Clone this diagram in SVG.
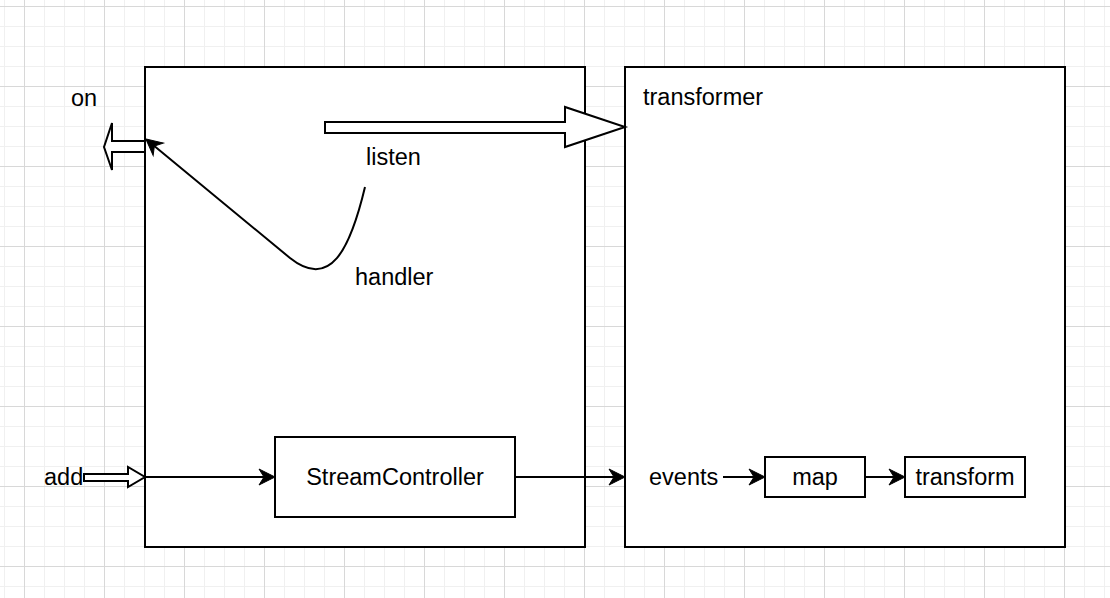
<svg xmlns="http://www.w3.org/2000/svg" width="1110" height="598" viewBox="0 0 1110 598">
  <defs>
    <pattern id="gMinor" patternUnits="userSpaceOnUse" x="4" y="6" width="20" height="20">
      <rect x="0" y="0" width="1" height="20" fill="#f0f0f0"/>
      <rect x="0" y="0" width="20" height="1" fill="#f0f0f0"/>
    </pattern>
    <pattern id="gMajor" patternUnits="userSpaceOnUse" x="24" y="6" width="80" height="80">
      <rect x="0" y="0" width="1" height="80" fill="#d8d8d8"/>
      <rect x="0" y="0" width="80" height="1" fill="#d8d8d8"/>
    </pattern>
    <marker id="arr" markerUnits="userSpaceOnUse" markerWidth="24" markerHeight="24" viewBox="-20 -12 24 24" refX="-7" refY="0" orient="auto">
      <path d="M0,0 L-16,-8 L-11,0 L-16,8 Z" fill="#000" stroke="#000" stroke-width="1" stroke-linejoin="miter"/>
    </marker>
    <style>
      .box { fill: #fff; stroke: #000; stroke-width: 2; }
      .flex { fill: #fff; stroke: #000; stroke-width: 2; stroke-linejoin: miter; }
      .edge { fill: none; stroke: #000; stroke-width: 2; }
      .lbl { font-family: "Liberation Sans", Arial, Helvetica, sans-serif; font-size: 23.5px; fill: #000; }
      .mid { text-anchor: middle; }
    </style>
  </defs>

  <rect width="1110" height="598" fill="#fff"/>
  <rect width="1110" height="598" fill="url(#gMinor)"/>
  <rect width="1110" height="598" fill="url(#gMajor)"/>

  <g id="stream">
    <rect class="box" x="145" y="67" width="440" height="480"/>
  </g>
  <g id="transformer">
    <rect class="box" x="625" y="67" width="440" height="480"/>
    <text class="lbl" x="643" y="105">transformer</text>
  </g>
  <g id="streamcontroller">
    <rect class="box" x="275" y="437" width="240" height="80"/>
    <text class="lbl mid" x="395" y="485">StreamController</text>
  </g>
  <g id="map">
    <rect class="box" x="765" y="457" width="100" height="40"/>
    <text class="lbl mid" x="815" y="485">map</text>
  </g>
  <g id="transform">
    <rect class="box" x="905" y="457" width="120" height="40"/>
    <text class="lbl mid" x="965" y="485">transform</text>
  </g>
  <g id="on-label">
    <text class="lbl" x="71" y="106">on</text>
  </g>
  <g id="add-label">
    <text class="lbl" x="44" y="485">add</text>
  </g>
  <g id="listen-label">
    <text class="lbl" x="366" y="165">listen</text>
  </g>
  <g id="handler-label">
    <text class="lbl" x="355" y="285">handler</text>
  </g>
  <g id="events-label">
    <text class="lbl" x="649" y="485">events</text>
  </g>

  <g id="connectors">
    <polygon class="flex" points="325,122 565,122 565,107 625,127 565,147 565,133 325,133"/>
    <polygon class="flex" points="145,141 112,141 112,123 104,147 112,170 112,152 145,152"/>
    <polygon class="flex" points="84,474 128,474 128,467 145,477 128,487 128,481 84,481"/>
    <path class="edge" d="M365,187 C350,250 330,290 290,258 L151.3,143.5" marker-end="url(#arr)"/>
    <line class="edge" x1="145" y1="477" x2="268" y2="477" marker-end="url(#arr)"/>
    <line class="edge" x1="515" y1="477" x2="618" y2="477" marker-end="url(#arr)"/>
    <line class="edge" x1="723" y1="477" x2="758" y2="477" marker-end="url(#arr)"/>
    <line class="edge" x1="865" y1="477" x2="898" y2="477" marker-end="url(#arr)"/>
  </g>
</svg>
